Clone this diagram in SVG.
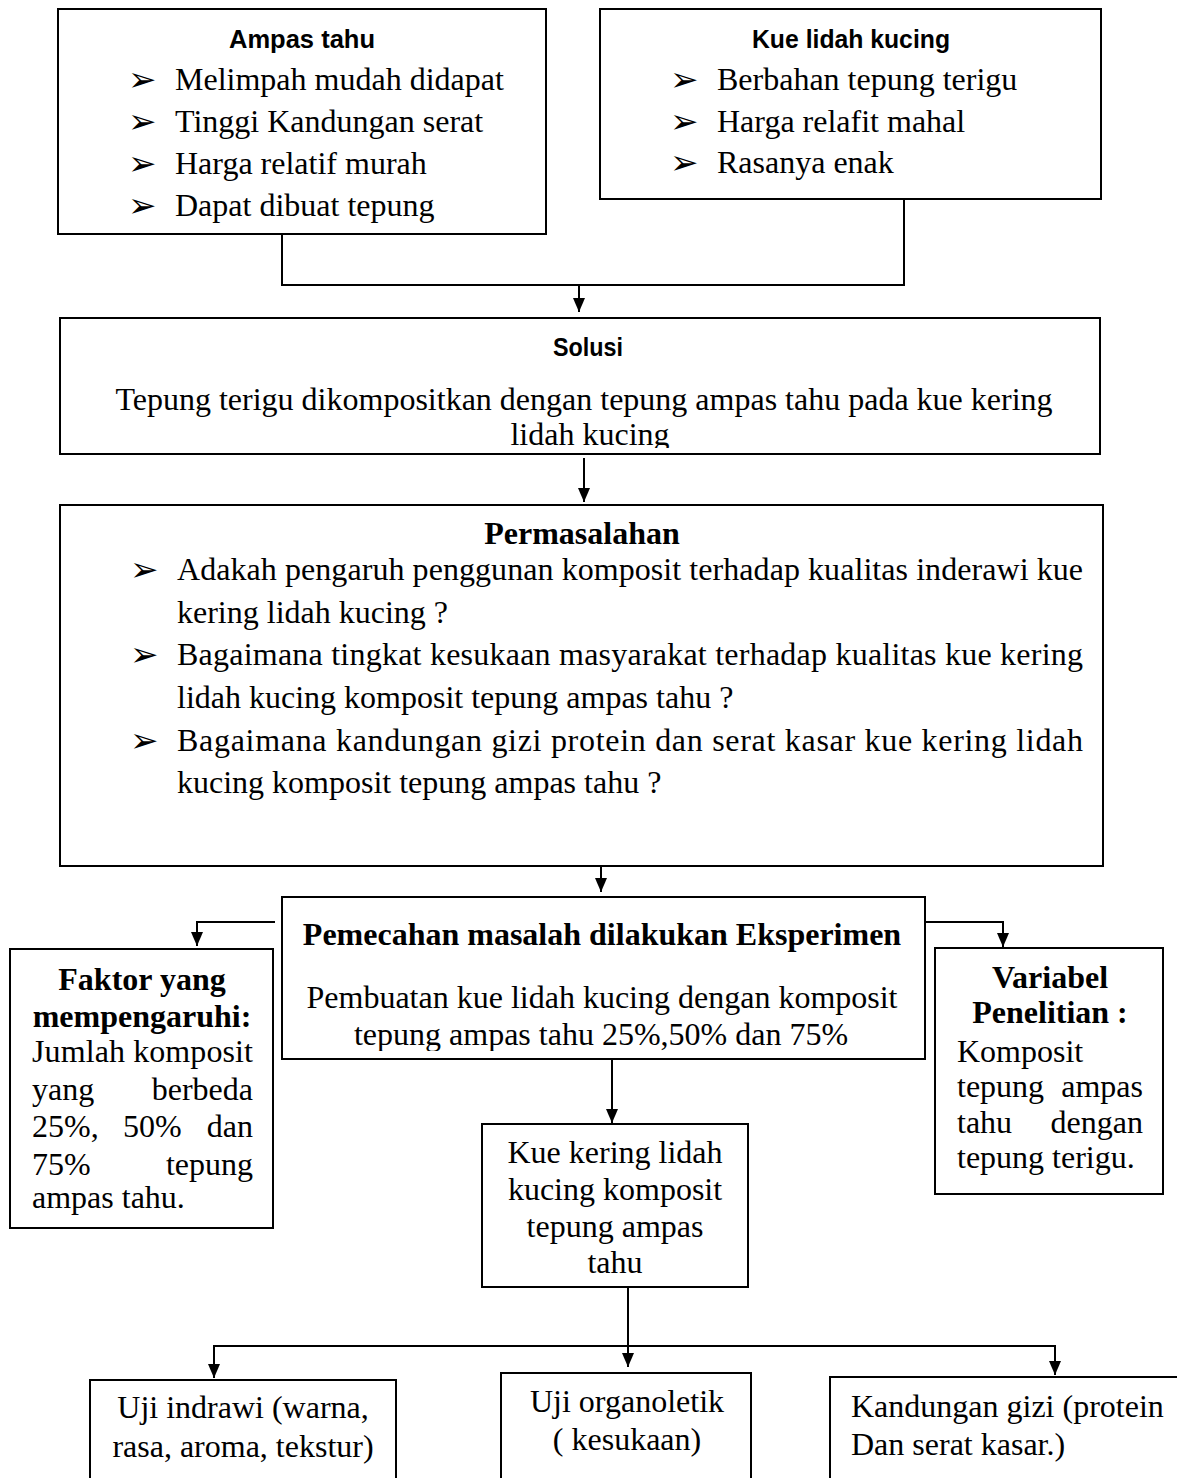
<svg xmlns="http://www.w3.org/2000/svg" width="1177" height="1478" viewBox="0 0 1177 1478">
<style>
.box{fill:#fff;stroke:#000;stroke-width:2}
.t{font-family:"Liberation Serif","Times New Roman",serif;font-size:32px;fill:#000}
.b{font-family:"Liberation Serif","Times New Roman",serif;font-size:32px;font-weight:bold;fill:#000}
.s{font-family:"Liberation Sans",Arial,sans-serif;font-size:26px;font-weight:bold;fill:#000}
.bul{font-family:"DejaVu Sans",sans-serif;font-size:34px;fill:#000}
.c{text-anchor:middle}
.e{text-anchor:end}
.ln{fill:none;stroke:#000;stroke-width:2}
</style>
<defs>
<marker id="ah" markerUnits="userSpaceOnUse" markerWidth="12" markerHeight="14" refX="6" refY="14" orient="0" viewBox="0 0 12 14">
<path d="M0,0 L12,0 L6,14 z" fill="#000"/>
</marker>
<clipPath id="clipSol"><rect x="60" y="318" width="1040" height="130"/></clipPath>
<clipPath id="clipPem"><rect x="282" y="897" width="643" height="154"/></clipPath>
</defs>
<rect width="1177" height="1478" fill="#fff"/>

<g id="connectors">
<polyline class="ln" points="282,234 282,285 904,285 904,199"/>
<line class="ln" x1="579" y1="285" x2="579" y2="312" marker-end="url(#ah)"/>
<line class="ln" x1="584" y1="458" x2="584" y2="502" marker-end="url(#ah)"/>
<line class="ln" x1="601" y1="866" x2="601" y2="892" marker-end="url(#ah)"/>
<polyline class="ln" points="275,922 197,922 197,946" marker-end="url(#ah)"/>
<polyline class="ln" points="925,922 1003,922 1003,947" marker-end="url(#ah)"/>
<line class="ln" x1="612" y1="1059" x2="612" y2="1123" marker-end="url(#ah)"/>
<line class="ln" x1="628" y1="1287" x2="628" y2="1367" marker-end="url(#ah)"/>
<polyline class="ln" points="214,1378 214,1346 1055,1346 1055,1375" marker-start="url(#ah)" marker-end="url(#ah)"/>
</g>

<g id="ampas-tahu">
<rect class="box" x="58" y="9" width="488" height="225"/>
<text class="s c" x="302" y="48" textLength="146" lengthAdjust="spacingAndGlyphs">Ampas tahu</text>
<text class="bul" x="128" y="91">➢</text>
<text class="t" x="175" y="90">Melimpah mudah didapat</text>
<text class="bul" x="128" y="133">➢</text>
<text class="t" x="175" y="132">Tinggi Kandungan serat</text>
<text class="bul" x="128" y="175">➢</text>
<text class="t" x="175" y="174">Harga relatif murah</text>
<text class="bul" x="128" y="217">➢</text>
<text class="t" x="175" y="216">Dapat dibuat tepung</text>
</g>

<g id="kue-lidah-kucing">
<rect class="box" x="600" y="9" width="501" height="190"/>
<text class="s c" x="851" y="48" textLength="198" lengthAdjust="spacingAndGlyphs">Kue lidah kucing</text>
<text class="bul" x="670" y="91">➢</text>
<text class="t" x="717" y="90">Berbahan tepung terigu</text>
<text class="bul" x="670" y="133">➢</text>
<text class="t" x="717" y="132">Harga relafit mahal</text>
<text class="bul" x="670" y="174">➢</text>
<text class="t" x="717" y="173">Rasanya enak</text>
</g>

<g id="solusi">
<rect class="box" x="60" y="318" width="1040" height="136"/>
<text class="s c" x="588" y="356" textLength="70" lengthAdjust="spacingAndGlyphs">Solusi</text>
<g clip-path="url(#clipSol)">
<text class="t c" x="584" y="410">Tepung terigu dikompositkan dengan tepung ampas tahu pada kue kering</text>
<text class="t c" x="590" y="445">lidah kucing</text>
</g>
</g>

<g id="permasalahan">
<rect class="box" x="60" y="505" width="1043" height="361"/>
<text class="b c" x="582" y="544">Permasalahan</text>
<text class="bul" x="130" y="581">➢</text>
<text class="t" x="177" y="580" textLength="906" lengthAdjust="spacing">Adakah pengaruh penggunan komposit terhadap kualitas inderawi kue</text>
<text class="t" x="177" y="623">kering lidah kucing ?</text>
<text class="bul" x="130" y="666">➢</text>
<text class="t" x="177" y="665" textLength="906" lengthAdjust="spacing">Bagaimana tingkat kesukaan masyarakat terhadap kualitas kue kering</text>
<text class="t" x="177" y="708">lidah kucing komposit tepung ampas tahu ?</text>
<text class="bul" x="130" y="752">➢</text>
<text class="t" x="177" y="751" textLength="906" lengthAdjust="spacing">Bagaimana kandungan gizi protein dan serat kasar kue kering lidah</text>
<text class="t" x="177" y="793">kucing komposit tepung ampas tahu ?</text>
</g>

<g id="pemecahan">
<rect class="box" x="282" y="897" width="643" height="162"/>
<text class="b c" x="602" y="945">Pemecahan masalah dilakukan Eksperimen</text>
<g clip-path="url(#clipPem)">
<text class="t c" x="602" y="1008">Pembuatan kue lidah kucing dengan komposit</text>
<text class="t c" x="601" y="1045">tepung ampas tahu 25%,50% dan 75%</text>
</g>
</g>

<g id="faktor">
<rect class="box" x="10" y="949" width="263" height="279"/>
<text class="b c" x="142" y="990">Faktor yang</text>
<text class="b c" x="142" y="1027">mempengaruhi:</text>
<text class="t" x="32" y="1062" textLength="221" lengthAdjust="spacing">Jumlah komposit</text>
<text class="t" x="32" y="1100">yang</text>
<text class="t e" x="253" y="1100">berbeda</text>
<text class="t" x="32" y="1137">25%,</text>
<text class="t" x="123" y="1137">50%</text>
<text class="t e" x="253" y="1137">dan</text>
<text class="t" x="32" y="1175">75%</text>
<text class="t e" x="253" y="1175">tepung</text>
<text class="t" x="32" y="1208">ampas tahu.</text>
</g>

<g id="variabel">
<rect class="box" x="935" y="948" width="228" height="246"/>
<text class="b c" x="1050" y="988">Variabel</text>
<text class="b c" x="1050" y="1023">Penelitian :</text>
<text class="t" x="957" y="1062">Komposit</text>
<text class="t" x="957" y="1097">tepung</text>
<text class="t e" x="1143" y="1097">ampas</text>
<text class="t" x="957" y="1133">tahu</text>
<text class="t e" x="1143" y="1133">dengan</text>
<text class="t" x="957" y="1168">tepung terigu.</text>
</g>

<g id="kue-kering">
<rect class="box" x="482" y="1124" width="266" height="163"/>
<text class="t c" x="615" y="1163">Kue kering lidah</text>
<text class="t c" x="615" y="1200">kucing komposit</text>
<text class="t c" x="615" y="1237">tepung ampas</text>
<text class="t c" x="615" y="1273">tahu</text>
</g>

<g id="uji-indrawi">
<rect class="box" x="90" y="1380" width="306" height="120"/>
<text class="t c" x="243" y="1418">Uji indrawi (warna,</text>
<text class="t c" x="243" y="1457">rasa, aroma, tekstur)</text>
</g>

<g id="uji-organoletik">
<rect class="box" x="501" y="1373" width="250" height="127"/>
<text class="t c" x="627" y="1412">Uji organoletik</text>
<text class="t c" x="627" y="1450">( kesukaan)</text>
</g>

<g id="kandungan-gizi">
<rect class="box" x="830" y="1377" width="360" height="123"/>
<text class="t" x="851" y="1417">Kandungan gizi (protein</text>
<text class="t" x="851" y="1455">Dan serat kasar.)</text>
</g>
</svg>
